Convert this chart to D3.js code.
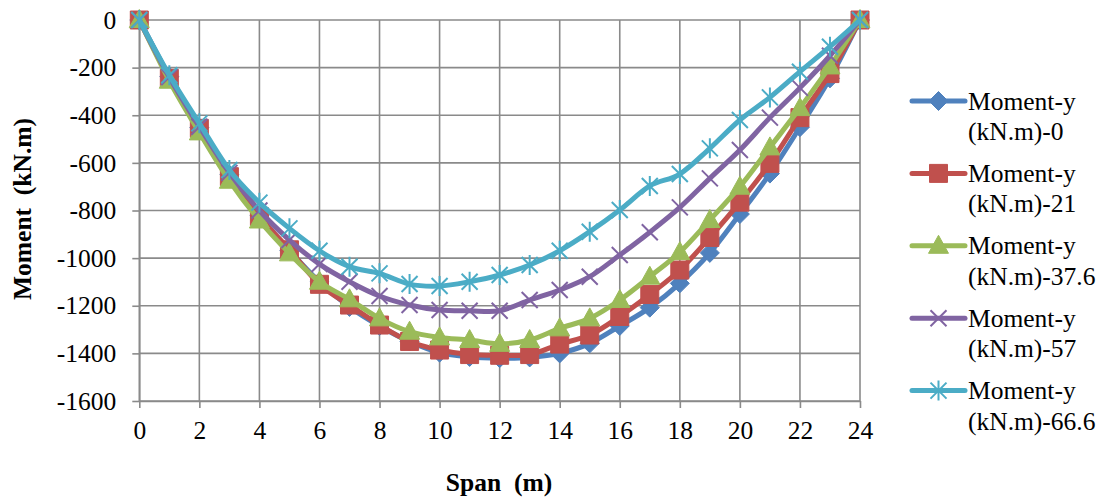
<!DOCTYPE html>
<html>
<head>
<meta charset="utf-8">
<script src="https://cdn.jsdelivr.net/npm/d3@7"></script>
<style>
  html, body { margin: 0; padding: 0; background: #fff; }
  svg { display: block; }
  svg text { font-family: "Liberation Serif", "Times New Roman", Times, "DejaVu Serif", serif; }
</style>
</head>
<body>
<svg id="chart" width="1103" height="500"></svg>
<script>
// Span positions along the beam (m)
const span = d3.range(0, 25);

// Bending moment about y (kN.m) for each load case
const moment0 = [0, -238, -452, -650, -822, -968, -1100, -1205, -1285, -1350, -1397, -1415, -1420, -1417, -1400, -1358, -1285, -1208, -1106, -978, -815, -645, -450, -245, 0];
const moment21 = [0, -245, -455, -658, -826, -965, -1110, -1197, -1281, -1350, -1386, -1405, -1408, -1405, -1361, -1323, -1245, -1153, -1050, -913, -765, -602, -410, -225, 0];
const moment37_6 = [0, -255, -472, -675, -842, -980, -1099, -1173, -1253, -1309, -1333, -1344, -1360, -1344, -1295, -1253, -1176, -1078, -975, -840, -700, -535, -370, -195, 0];
const moment57 = [0, -240, -448, -642, -800, -924, -1025, -1099, -1159, -1197, -1218, -1221, -1221, -1176, -1134, -1078, -987, -891, -787, -665, -546, -410, -285, -150, 0];
const moment66_6 = [0, -232, -434, -630, -767, -875, -969, -1036, -1064, -1109, -1117, -1099, -1071, -1029, -969, -889, -798, -697, -647, -539, -420, -325, -217, -112, 0];

const seriesNames = ["Moment-y|(kN.m)-0", "Moment-y|(kN.m)-21", "Moment-y|(kN.m)-37.6", "Moment-y|(kN.m)-57", "Moment-y|(kN.m)-66.6"];
const seriesColors = ["#4F81BD", "#C0504D", "#9BBB59", "#8064A2", "#4BACC6"];
const seriesMarkers = ["diamond", "square", "triangle", "x", "star"];

const xTicks = [0, 2, 4, 6, 8, 10, 12, 14, 16, 18, 20, 22, 24];
const yTicks = [0, -200, -400, -600, -800, -1000, -1200, -1400, -1600];

const xTitle = "Span\u00a0\u00a0(m)";
const yTitle = "Moment\u00a0\u00a0(kN.m)";

const serif = "'Liberation Serif', 'Times New Roman', Times, 'DejaVu Serif', serif";

const series = [moment0, moment21, moment37_6, moment57, moment66_6].map((vals, i) => ({
  name: seriesNames[i],
  color: seriesColors[i],
  marker: seriesMarkers[i],
  points: span.map((s, j) => ({ x: s, y: vals[j] }))
}));

const svg = d3.select("#chart");
const plot = { left: 139.3, right: 860, top: 20, bottom: 401 };

const x = d3.scaleLinear().domain([0, 24]).range([plot.left, plot.right]);
const y = d3.scaleLinear().domain([-1600, 0]).range([plot.bottom, plot.top]);

const gridColor = "#8a8a8a";

// Grid
const grid = svg.append("g");
grid.selectAll("line.v").data(xTicks).join("line")
  .attr("x1", d => x(d)).attr("x2", d => x(d))
  .attr("y1", plot.top).attr("y2", plot.bottom)
  .attr("stroke", gridColor).attr("stroke-width", 1.6);
grid.selectAll("line.h").data(yTicks).join("line")
  .attr("x1", plot.left).attr("x2", plot.right)
  .attr("y1", d => y(d)).attr("y2", d => y(d))
  .attr("stroke", gridColor).attr("stroke-width", 1.6);

// Axes
const xAxis = d3.axisBottom(x).tickValues(xTicks).tickFormat(d => String(d))
  .tickSize(7).tickSizeOuter(0).tickPadding(13);
const yAxis = d3.axisLeft(y).tickValues(yTicks).tickFormat(d => String(d))
  .tickSize(7).tickSizeOuter(0).tickPadding(16);

const gx = svg.append("g").attr("transform", `translate(0,${plot.bottom})`).call(xAxis);
const gy = svg.append("g").attr("transform", `translate(${plot.left},0)`).call(yAxis);
[gx, gy].forEach(g => {
  g.attr("font-family", serif).attr("font-size", 25);
  g.select(".domain").attr("stroke", gridColor).attr("stroke-width", 1.6);
  g.selectAll(".tick line").attr("stroke", gridColor).attr("stroke-width", 1.6);
  g.selectAll(".tick text").attr("fill", "#000")
    .attr("font-family", serif).attr("font-size", 25.5);
});

// Axis titles
svg.append("text")
  .attr("x", 499).attr("y", 491)
  .attr("text-anchor", "middle")
  .attr("font-family", serif).attr("font-size", 25.5).attr("font-weight", "bold")
  .text(xTitle);
svg.append("text")
  .attr("transform", "translate(31,209) rotate(-90)")
  .attr("text-anchor", "middle")
  .attr("font-family", serif).attr("font-size", 25.5).attr("font-weight", "bold")
  .text(yTitle);

// Marker shapes
function markerPath(type) {
  switch (type) {
    case "diamond": return "M0,-9.5L9.5,0L0,9.5L-9.5,0Z";
    case "square": return "M-9,-9H9V9H-9Z";
    case "triangle": return "M0,-10.5L10,7.5L-10,7.5Z";
    case "x": return "M-8,-8L8,8M-8,8L8,-8";
    case "star": return "M-8,-8L8,8M-8,8L8,-8M0,-10L0,10";
  }
}
function drawMarker(sel, s) {
  const filled = s.marker === "diamond" || s.marker === "square" || s.marker === "triangle";
  sel.attr("d", markerPath(s.marker))
    .attr("fill", filled ? s.color : "none")
    .attr("stroke", s.color)
    .attr("stroke-width", filled ? 1 : 2);
}

// Series lines and markers
const line = d3.line()
  .x(d => x(d.x)).y(d => y(d.y))
  .curve(d3.curveCatmullRom.alpha(0));

series.forEach(s => {
  const g = svg.append("g");
  g.append("path")
    .datum(s.points)
    .attr("d", line)
    .attr("fill", "none")
    .attr("stroke", s.color)
    .attr("stroke-width", 5)
    .attr("stroke-linejoin", "round");
  g.selectAll("path.m").data(s.points).join("path")
    .attr("class", "m")
    .attr("transform", d => `translate(${x(d.x)},${y(d.y)})`)
    .call(sel => drawMarker(sel, s));
});

// Legend
const legend = svg.append("g");
series.forEach((s, i) => {
  const cy = 101 + i * 72.4;
  const g = legend.append("g");
  g.append("line")
    .attr("x1", 912).attr("x2", 965).attr("y1", cy).attr("y2", cy)
    .attr("stroke", s.color).attr("stroke-width", 5).attr("stroke-linecap", "round");
  g.append("path").attr("transform", `translate(938.5,${cy})`).call(sel => drawMarker(sel, s));
  const parts = s.name.split("|");
  g.append("text")
    .attr("x", 968).attr("y", cy + 8.5)
    .attr("font-family", serif).attr("font-size", 25.5)
    .text(parts[0]);
  g.append("text")
    .attr("x", 968).attr("y", cy + 39)
    .attr("font-family", serif).attr("font-size", 25.5)
    .text(parts[1]);
});
</script>
</body>
</html>
